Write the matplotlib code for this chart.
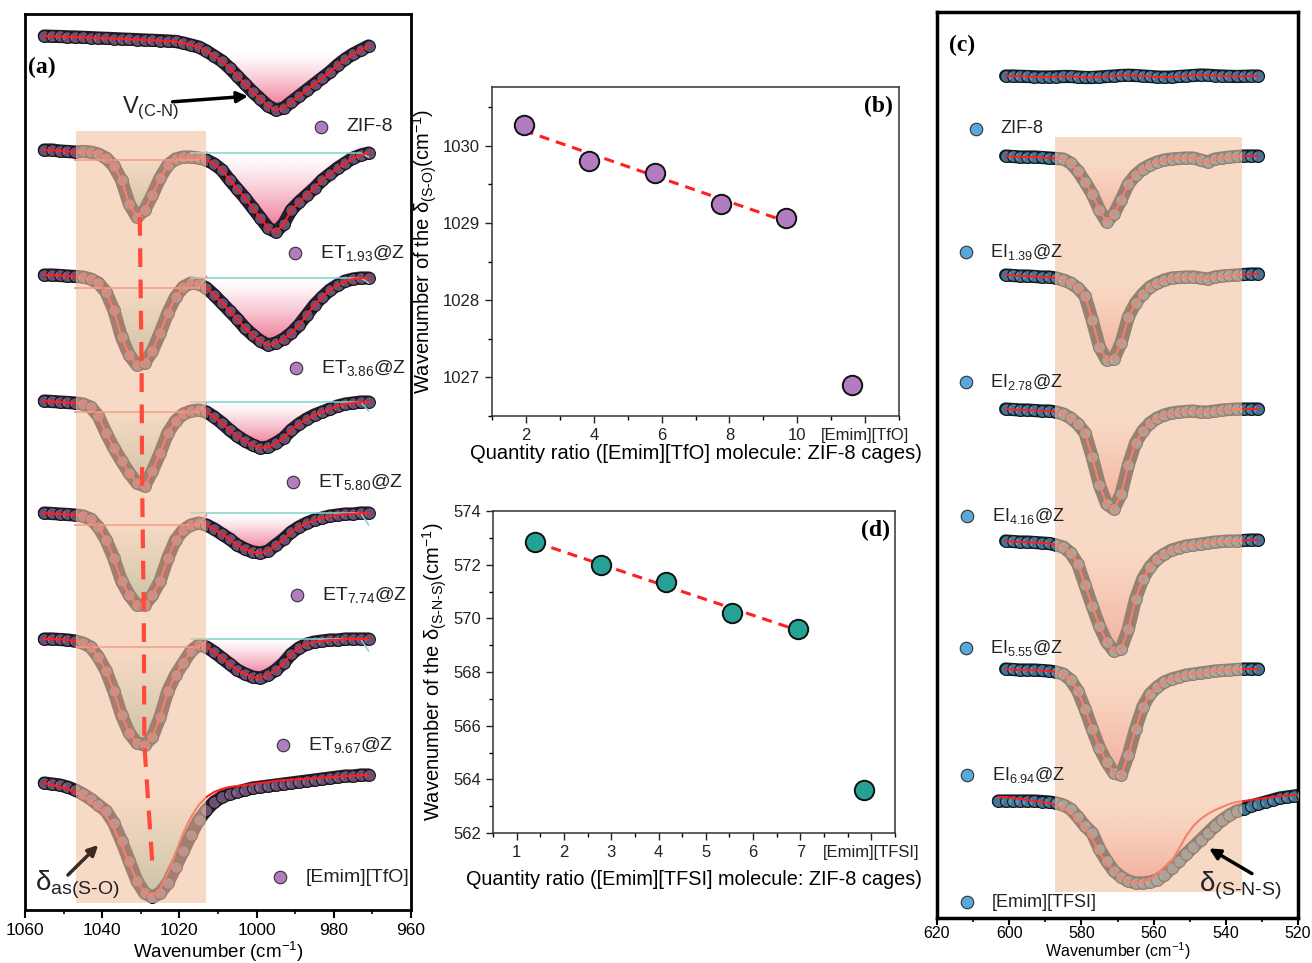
import numpy as np
import matplotlib.pyplot as plt
from matplotlib.colors import to_rgb
from matplotlib.patches import Rectangle
from matplotlib.ticker import MultipleLocator

plt.rcParams['font.family'] = ['Liberation Sans', 'DejaVu Sans']
plt.rcParams['mathtext.fontset'] = 'custom'
plt.rcParams['mathtext.rm'] = 'Liberation Sans'
plt.rcParams['mathtext.it'] = 'Liberation Sans:italic'
plt.rcParams['mathtext.bf'] = 'Liberation Sans:bold'

# ---------------- data ----------------
# (a) FTIR, 1055 -> 971 cm-1, dip depth relative to each trace's start (arb.)
wn_a = np.arange(1055, 970, -2)
zif8_a = [0, 0.3, 0.5, 0.8, 1, 1.3, 1.6, 2, 2.3, 2.6, 3, 3.3, 3.6, 4, 4.3, 4.6, 5,
          5.5, 7, 9, 11, 15,
          20, 25, 32, 40, 48, 56, 63, 70, 74,
          72, 66, 60, 54, 48, 42, 36, 29, 23, 18, 14, 10]
et193 = [0, 0, 1, 1.5, 2, 1.5, 2, 4, 8, 16, 30, 54, 67, 60, 45, 28, 15,
         9, 7, 7, 8, 10,
         14, 20, 30, 39, 48, 58, 68, 78, 82,
         74, 60, 52, 45, 38, 30, 24, 18, 13, 8, 5, 3]
et386 = [0, 0, 0.5, 1, 1.5, 2, 4, 8, 17, 35, 62, 80, 90, 88, 76, 58, 38,
         22, 12, 8, 9, 13,
         20, 28, 36, 44, 53, 60, 66, 70, 68,
         64, 58, 50, 40, 30, 22, 15, 10, 6, 4, 3, 3]
et580 = [0, 0.5, 1, 1.5, 2, 3, 6, 15, 32, 47, 60, 72, 82, 85, 70, 52, 32,
         20, 13, 10, 9, 11,
         16, 22, 29, 35, 40, 44, 47, 46, 42,
         37, 29, 23, 18, 14, 11, 8, 5, 3, 2, 1, 1]
et774 = [0, 0.5, 1, 1.5, 2, 3, 6, 14, 27, 45, 68, 82, 92, 92, 82, 68, 45,
         27, 17, 12, 10, 12,
         16, 21, 26, 32, 36, 39, 40, 38, 32,
         26, 19, 14, 10, 7, 5, 3, 2, 1, 1, 0, 0]
et967 = [0, 0, 0.5, 1, 2, 4, 8, 18, 32, 52, 76, 94, 104, 106, 98, 78, 52,
         36, 24, 12, 6, 8,
         13, 19, 25, 31, 35, 38, 39, 36, 31,
         24, 15, 9, 5, 3, 2, 1, 1, 0, 0, 0, 0]
tfo = [0, 1, 2, 4, 7, 11, 16, 22, 28, 40, 58, 78, 98, 110, 114, 110, 100,
       84, 68, 52, 37, 27,
       19, 14, 11, 9, 7, 5, 4, 3, 2,
       1, 0, -1, -2, -3, -4, -5, -6, -7, -7, -8, -8]
tfo_fit = [0, 2, 4, 6, 9, 13, 18, 25, 33, 45, 62, 80, 98, 110, 113, 106, 90,
           70, 50, 34, 22, 14,
           9, 6, 4, 3, 2, 1, 0, -1, -2,
           -3, -3, -4, -4, -5, -5, -6, -6, -7, -7, -8, -8]
labels_a = ['ZIF-8', r'ET$_{\mathrm{1.93}}$@Z', r'ET$_{\mathrm{3.86}}$@Z', r'ET$_{\mathrm{5.80}}$@Z',
            r'ET$_{\mathrm{7.74}}$@Z', r'ET$_{\mathrm{9.67}}$@Z', '[Emim][TfO]']

# (c) FTIR, 601 -> 531 cm-1 ([Emim][TFSI]: 603 -> 519)
wn_c = np.arange(601, 530, -2)
wn_c_long = np.arange(603, 518, -2)
zif8_c = [0, 0, 0.3, 0.5, 0.8, 1, 1, 0.8, 0.5, 0.5, 1, 1.5, 1.5, 1, 0.5, 0, -0.5, -0.8,
          -0.5, 0, 0.5, 1, 1.2, 1, 0.5, 0, -0.5, -1, -0.8, -0.3, 0, 0.3, 0.5, 0.3, 0, 0]
ei139 = [0, 0.5, 1, 1, 1, 1.5, 2, 2.5, 3,
         7, 15, 26, 38, 54, 66, 58, 44, 28, 19, 13, 9, 6, 4, 3, 2.5, 2, 2, 4, 6, 3, 2, 1, 0.5, 0, 0, 0]
ei278 = [0, 0.5, 1, 1, 1.5, 2, 2, 3, 5,
         8, 13, 21, 45, 72, 85, 84, 68, 42, 28, 19, 12, 8, 5, 3, 2.5, 2, 2, 3, 4, 2, 1, 0.5, 0, -0.5, -1, -1]
ei416 = [0, 0.5, 1, 1, 1.5, 2, 2, 3, 5,
         9, 15, 24, 48, 76, 95, 100, 85, 56, 34, 22, 14, 9, 6, 4, 3, 2.5, 2, 3, 3, 2, 1, 0.5, 0, 0, 0, 0]
ei555 = [0, 0.5, 1, 1, 1.5, 2, 2.5, 4, 6,
         12, 23, 44, 65, 85, 101, 110, 108, 88, 58, 38, 26, 18, 13, 9, 7, 5, 4, 3, 2, 1, 0.5, 0, 0, -0.5, -1, -1]
ei694 = [0, 0.5, 1, 1, 1, 1.5, 2, 3, 5,
         11, 22, 40, 60, 79, 93, 104, 106, 86, 60, 38, 25, 18, 13, 10, 8, 6, 5, 4, 3, 2, 1.5, 1, 0.5, 0, 0, 0]
tfsi = [0, 0, 0, 0, 0, 0, 0.5, 1, 2, 4, 8, 16, 25, 32, 48, 60, 70, 76, 80, 82, 82, 81,
        79, 74, 67, 60, 53, 46, 39, 32, 25, 19, 14, 10, 8, 5, 3, 1, -1, -3, -4, -5, -6]
tfsi_fit = [-4, -4, -3, -2, -1, 0, 1, 2, 4, 7, 12, 19, 27, 38, 52, 62, 70, 76, 80, 82, 81, 78,
            73, 66, 60, 48, 35, 25, 18, 13, 9, 6, 3, 1, 0, -1, -2, -3, -4, -5, -5, -6, -6]
labels_c = ['ZIF-8', r'EI$_{\mathrm{1.39}}$@Z', r'EI$_{\mathrm{2.78}}$@Z', r'EI$_{\mathrm{4.16}}$@Z',
            r'EI$_{\mathrm{5.55}}$@Z', r'EI$_{\mathrm{6.94}}$@Z', '[Emim][TFSI]']

# (b) S-O band position vs loading
ratio_tfo = [1.93, 3.86, 5.80, 7.74, 9.67]
so_peak = [1030.27, 1029.80, 1029.65, 1029.25, 1029.07]
tfo_pos, tfo_peak = 11.6, 1026.9

# (d) S-N-S band position vs loading
ratio_tfsi = [1.39, 2.78, 4.16, 5.55, 6.94]
sns_peak = [572.83, 571.98, 571.36, 570.20, 569.62]
tfsi_pos, tfsi_peak = 8.34, 563.6

# ---------------- layout ----------------
W, H = 1312, 963


def box(l, t, r, b):
    return [l / W, 1 - b / H, (r - l) / W, (b - t) / H]


fig = plt.figure(figsize=(13.12, 9.63), dpi=100)
ax_a = fig.add_axes(box(25, 14, 411, 910))
ax_b = fig.add_axes(box(492, 87, 899, 416))
ax_d = fig.add_axes(box(493, 511, 895, 833))
ax_c = fig.add_axes(box(937, 12, 1298, 918))

RED = '#ff1f1f'
HY = r'\text{-}'


def grad_fill(ax, x, y, x0, x1, color, amax, line=None):
    m = (x <= max(x0, x1)) & (x >= min(x0, x1))
    xs, ys = x[m], y[m]
    base = np.interp(xs, [xs[0], xs[-1]], [ys[0], ys[-1]])
    poly = ax.fill_between(xs, base, ys, color='none', lw=0)
    path = poly.get_paths()[0]
    lo, hi = min(base.min(), ys.min()), max(base.max(), ys.max())
    g = np.zeros((64, 1, 4))
    g[..., :3] = to_rgb(color)
    g[:, 0, 3] = np.linspace(0, 1, 64) ** 1.3 * amax
    im = ax.imshow(g, extent=[xs.min(), xs.max(), hi, lo], origin='upper',
                   aspect='auto', zorder=1, interpolation='bilinear')
    im.set_clip_path(path, transform=ax.transData)
    if line:
        ax.plot(xs, base, color=line, lw=1.1, zorder=4)


def draw_spec(ax, x, y, fit, face, band):
    ax.plot(x, y, color=band, lw=9.5, solid_capstyle='round', zorder=2)
    ax.plot(x, y, 'o', ms=8.5, mfc=face, mec='#151515', mew=0.8, zorder=3)
    ax.plot(x, fit, color=RED, lw=1.5, zorder=5)


# ---------------- (a) ----------------
offs_a = [36, 150, 275, 401, 513, 639, 783]
spec_a = [zif8_a, et193, et386, et580, et774, et967, tfo]
face_a = to_rgb('#9a75a6') + (0.6,)
for i, (v, off) in enumerate(zip(spec_a, offs_a)):
    y = off + np.array(v, float)
    fit = off + np.array(tfo_fit, float) if i == 6 else y
    if i == 0:
        grad_fill(ax_a, wn_a, y, 1013, 975, '#e8406a', 0.75)
    elif i < 6:
        grad_fill(ax_a, wn_a, y, 1047, 1013, '#3f9a78', 0.6, line='#ff6060')
        grad_fill(ax_a, wn_a, y, 1017, 971, '#e8406a', 0.75, line='#7fd3cc')
    else:
        grad_fill(ax_a, wn_a, y, 1051, 1005, '#3f9a78', 0.6)
    draw_spec(ax_a, wn_a, y, fit, face_a, '#2a1d2e')

ax_a.add_patch(Rectangle((1046.8, 131), 1013.2 - 1046.8, 903 - 131, color='#f3c29f',
                         alpha=0.6, lw=0, zorder=6))

# dashed guide through the S-O minima (positions from panel b)
dip_y = [off + max(np.array(v)[(wn_a <= 1045) & (wn_a >= 1017)])
         for v, off in zip(spec_a[1:], offs_a[1:])]
dip_y[-1] -= 27
ax_a.plot(so_peak + [tfo_peak], dip_y, color='#ff4a3a', lw=3, dashes=(4.5, 3), zorder=7)

leg_a_x = [983.4, 990.1, 989.9, 990.6, 989.6, 993.2, 994.0]
leg_a_y = [127, 253, 368, 482, 595, 745, 877]
for lx, ly, lab in zip(leg_a_x, leg_a_y, labels_a):
    ax_a.plot(lx, ly, 'o', ms=9, mfc='#b27cc0', mec='#333333', mew=0.8, zorder=8)
    ax_a.text(lx - 6.6, ly, lab, fontsize=14, color='#222222', va='center', ha='left', zorder=8)

ax_a.text(1035.0, 108, r'V$_{\mathrm{(C' + HY + r'N)}}$', fontsize=17, ha='left', va='center',
          color='#222222')
ax_a.annotate('', xy=(1001.5, 96), xytext=(1022.5, 102),
              arrowprops=dict(arrowstyle='-|>', color='k', lw=2.5, mutation_scale=16))
ax_a.text(1057.5, 885, r'δ$_{\mathrm{as(S' + HY + r'O)}}$', fontsize=20, ha='left', va='center',
          color='#222222', zorder=8)
ax_a.annotate('', xy=(1040.5, 843), xytext=(1049.4, 877),
              arrowprops=dict(arrowstyle='-|>', color='#3a2a20', lw=2.5, mutation_scale=15), zorder=8)
ax_a.text(1059.2, 67, '(a)', fontsize=17, fontweight='bold', family='Liberation Serif',
          ha='left', va='center')

ax_a.set_xlim(1060, 960)
ax_a.set_ylim(910, 14)
ax_a.set_yticks([])
ax_a.xaxis.set_major_locator(MultipleLocator(20))
ax_a.xaxis.set_minor_locator(MultipleLocator(10))
ax_a.tick_params(axis='x', direction='out', length=6, width=1.5, labelsize=12.5)
ax_a.tick_params(axis='x', which='minor', direction='out', length=3, width=1.2)
ax_a.set_xlabel('Wavenumber (cm$^{-1}$)', fontsize=13.5, labelpad=1)
for s in ax_a.spines.values():
    s.set_linewidth(2)

# ---------------- (c) ----------------
offs_c = [76, 156, 275, 409, 541, 669, 801]
spec_c = [zif8_c, ei139, ei278, ei416, ei555, ei694, tfsi]
face_c = to_rgb('#5fa3cf') + (0.65,)
for i, (v, off) in enumerate(zip(spec_c, offs_c)):
    x = wn_c_long if i == 6 else wn_c
    y = off + np.array(v, float)
    fit = off + np.array(tfsi_fit, float) if i == 6 else y
    if 0 < i < 6:
        grad_fill(ax_c, x, y, 587, 545, '#f05a6a', 0.65)
    elif i == 6:
        grad_fill(ax_c, x, y, 591, 531, '#f05a6a', 0.65)
    draw_spec(ax_c, x, y, fit, face_c, '#13222d')

ax_c.add_patch(Rectangle((587.2, 137), 535.4 - 587.2, 892 - 137, color='#f3c29f',
                         alpha=0.6, lw=0, zorder=6))

leg_c_x = [609.3, 612.0, 612.0, 611.7, 612.0, 611.7, 611.7]
leg_c_y = [129, 252, 382, 516, 648, 775, 902]
for lx, ly, lab in zip(leg_c_x, leg_c_y, labels_c):
    ax_c.plot(lx, ly, 'o', ms=9, mfc='#5aa7dc', mec='#333333', mew=0.8, zorder=8)
    ax_c.text(lx - 6.8, ly, lab, fontsize=13, color='#222222', va='center', ha='left', zorder=8)

ax_c.text(547.5, 886, r'δ$_{\mathrm{(S' + HY + 'N' + HY + r'S)}}$', fontsize=20, ha='left',
          va='center', color='#222222', zorder=8)
ax_c.annotate('', xy=(545.3, 847), xytext=(532.1, 875),
              arrowprops=dict(arrowstyle='-|>', color='k', lw=2.5, mutation_scale=16), zorder=8)
ax_c.text(616.8, 45, '(c)', fontsize=17, fontweight='bold', family='Liberation Serif',
          ha='left', va='center')

ax_c.set_xlim(620, 520)
ax_c.set_ylim(918, 12)
ax_c.set_yticks([])
ax_c.xaxis.set_major_locator(MultipleLocator(20))
ax_c.xaxis.set_minor_locator(MultipleLocator(10))
ax_c.tick_params(axis='x', direction='out', length=5, width=1.5, labelsize=11.5, pad=1)
ax_c.tick_params(axis='x', which='minor', direction='out', length=3, width=1.2)
ax_c.set_xlabel('Wavenumber (cm$^{-1}$)', fontsize=11.5, va='bottom')
ax_c.xaxis.set_label_coords(0.5, -(962 - 918) / 906)
for s in ax_c.spines.values():
    s.set_linewidth(2.5)


# ---------------- (b) / (d) ----------------
def scatter_panel(ax, xr, yv, x_ion, y_ion, color):
    k, b = np.polyfit(xr, yv, 1)
    xx = np.array([xr[0], xr[-1]])
    ax.plot(xx, k * xx + b, color=RED, lw=2.2, dashes=(3.3, 2.3), zorder=2)
    ax.plot(xr + [x_ion], yv + [y_ion], 'o', ms=14, mfc=color, mec='#111111', mew=1.4,
            ls='none', zorder=3)
    ax.tick_params(direction='out', length=5, width=1, labelsize=12, colors='#222222')
    ax.tick_params(which='minor', direction='out', length=3, width=1)
    ax.tick_params(top=False, right=False)
    for s in ax.spines.values():
        s.set_linewidth(1.1)
        s.set_color('#333333')


scatter_panel(ax_b, ratio_tfo, so_peak, tfo_pos, tfo_peak, '#b27cc0')
ax_b.set_xlim(1, 13)
ax_b.set_ylim(1026.5, 1030.76)
ax_b.set_xticks([2, 4, 6, 8, 10, 12], ['2', '4', '6', '8', '10', '[Emim][TfO]'])
ax_b.xaxis.set_minor_locator(MultipleLocator(1))
ax_b.yaxis.set_major_locator(MultipleLocator(1))
ax_b.yaxis.set_minor_locator(MultipleLocator(0.5))
ax_b.get_xticklabels()[-1].set_fontsize(12)
ax_b.set_xlabel('Quantity ratio ([Emim][TfO] molecule: ZIF-8 cages)', fontsize=14.5, labelpad=1)
ax_b.set_ylabel(r'Wavenumber of the δ$_{\mathrm{(S' + HY + r'O)}}$(cm$^{-1}$)', fontsize=14.5,
                labelpad=3)
ax_b.text(0.985, 0.94, '(b)', transform=ax_b.transAxes, fontsize=17, fontweight='bold',
          family='Liberation Serif', ha='right', va='center')

scatter_panel(ax_d, ratio_tfsi, sns_peak, tfsi_pos, tfsi_peak, '#26a196')
ax_d.set_xlim(0.5, 9)
ax_d.set_ylim(562, 574)
ax_d.set_xticks([1, 2, 3, 4, 5, 6, 7, 8.5], ['1', '2', '3', '4', '5', '6', '7', '[Emim][TFSI]'])
ax_d.xaxis.set_minor_locator(MultipleLocator(0.5))
ax_d.yaxis.set_major_locator(MultipleLocator(2))
ax_d.yaxis.set_minor_locator(MultipleLocator(1))
ax_d.get_xticklabels()[-1].set_fontsize(12)
ax_d.set_xlabel('Quantity ratio ([Emim][TFSI] molecule: ZIF-8 cages)', fontsize=14.3, labelpad=7)
ax_d.set_ylabel(r'Wavenumber of the δ$_{\mathrm{(S' + HY + 'N' + HY + r'S)}}$(cm$^{-1}$)',
                fontsize=14.5, labelpad=3)
ax_d.text(0.988, 0.94, '(d)', transform=ax_d.transAxes, fontsize=17, fontweight='bold',
          family='Liberation Serif', ha='right', va='center')

fig.savefig('out.png', dpi=100)
